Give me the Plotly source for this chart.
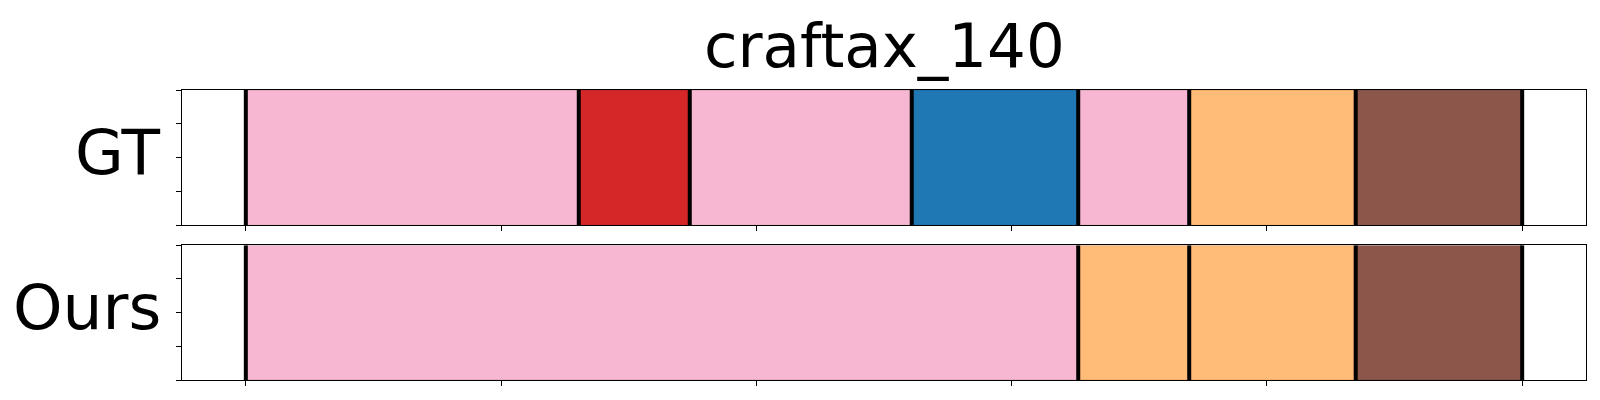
import plotly.graph_objects as go
import numpy as np

title_text = "craftax_140"
row_labels = ["GT", "Ours"]
n_steps = 23

gt_bounds = [0, 6, 8, 12, 15, 17, 20, 23]
gt_colors = ["#f7b6d2", "#d62728", "#f7b6d2", "#1f77b4", "#f7b6d2", "#ffbb78", "#8c564b"]

ours_bounds = [0, 15, 17, 20, 23]
ours_colors = ["#f7b6d2", "#ffbb78", "#ffbb78", "#8c564b"]

rows = [(gt_bounds, gt_colors), (ours_bounds, ours_colors)]

OFF = 8  # default page body margin
W, H = 1584, 384
ml, mr, mt, mb = 182 - OFF, 6, 90 - OFF, 12
plot_h = H - mt - mb
plot_w = W - ml - mr


def py(abs_y):
    # absolute screen y -> paper fraction
    return (H - mb - (abs_y - OFF)) / plot_h


def px(abs_x):
    return (abs_x - OFF - ml) / plot_w


fig = go.Figure()
axis_names = [("x", "y"), ("x2", "y2")]

for (bounds, colors), (xa, ya) in zip(rows, axis_names):
    for i, c in enumerate(colors):
        fig.add_trace(go.Bar(
            orientation="h", y=[0.5], base=[bounds[i]], x=[bounds[i + 1] - bounds[i]],
            width=1, marker=dict(color=c, line=dict(width=0.6, color="rgba(0,0,0,0.25)")),
            xaxis=xa, yaxis=ya, showlegend=False, hoverinfo="skip"))
    xs, ys = [], []
    for b in bounds:
        xs += [b, b, None]
        ys += [0, 1, None]
    fig.add_trace(go.Scatter(x=xs, y=ys, mode="lines", line=dict(color="black", width=4),
                             xaxis=xa, yaxis=ya, showlegend=False, hoverinfo="skip"))

pad = 0.05 * n_steps
xticks = list(np.linspace(0, n_steps, 6))
ax_common = dict(range=[-pad, n_steps + pad], tickvals=xticks, showticklabels=False,
                 ticks="outside", ticklen=5, tickwidth=1, tickcolor="black",
                 showline=True, mirror=True, linecolor="black", linewidth=1.2,
                 showgrid=False, zeroline=False)
ay_common = dict(range=[0, 1], tickvals=[0, 0.25, 0.5, 0.75, 1], showticklabels=False,
                 ticks="outside", ticklen=5, tickwidth=1, tickcolor="black",
                 showline=True, mirror=True, linecolor="black", linewidth=1.2,
                 showgrid=False, zeroline=False)

fig.update_layout(
    width=W, height=H, barmode="overlay",
    margin=dict(l=ml, r=mr, t=mt, b=mb),
    paper_bgcolor="white", plot_bgcolor="white",
    font=dict(family="DejaVu Sans", color="black"),
    xaxis=dict(domain=[0, 1], anchor="y", **ax_common),
    yaxis=dict(domain=[py(225.3), 1], anchor="x", **ay_common),
    xaxis2=dict(domain=[0, 1], anchor="y2", **ax_common),
    yaxis2=dict(domain=[0, py(245.3)], anchor="x2", **ay_common),
)

fig.add_annotation(text=row_labels[0], xref="paper", yref="paper",
                   x=px(163), y=py(152), xanchor="right", yanchor="middle",
                   showarrow=False, font=dict(size=63, family="DejaVu Sans"))
fig.add_annotation(text=row_labels[1], xref="paper", yref="paper",
                   x=px(163), y=py(307), xanchor="right", yanchor="middle",
                   showarrow=False, font=dict(size=63, family="DejaVu Sans"))
fig.add_annotation(text=title_text, xref="paper", yref="paper",
                   x=0.5, y=py(45), xanchor="center", yanchor="middle",
                   showarrow=False, font=dict(size=61, family="DejaVu Sans"))

fig.write_html("out.html")
